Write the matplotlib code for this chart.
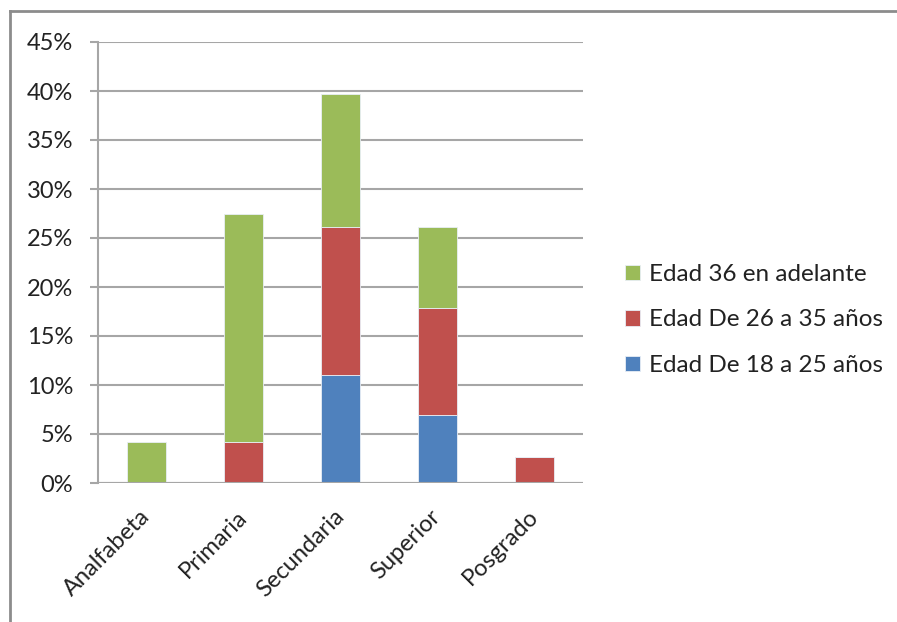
import matplotlib.pyplot as plt
from matplotlib.lines import Line2D
from matplotlib.ticker import PercentFormatter
import numpy as np

# Nivel educativo por grupo de edad (porcentajes)
categorias = ['Analfabeta', 'Primaria', 'Secundaria', 'Superior', 'Posgrado']
edad_18_25 = [0.0, 0.0, 11.0, 6.9, 0.0]
edad_26_35 = [0.0, 4.2, 15.1, 11.0, 2.7]
edad_36_mas = [4.2, 23.3, 13.6, 8.2, 0.0]

etiquetas = ['Edad De 18 a 25 años', 'Edad De 26 a 35 años', 'Edad 36 en adelante']
colores = ['#4F81BD', '#C0504D', '#9BBB59']

plt.rcParams['font.family'] = ['Lato', 'DejaVu Sans']

fig = plt.figure(figsize=(8.97, 6.22), dpi=100)
ax = fig.add_axes([98 / 897, 1 - 483 / 622, 485 / 897, 441 / 622])

x = np.arange(len(categorias))
base = np.zeros(len(categorias))
for serie, etiqueta, color in zip([edad_18_25, edad_26_35, edad_36_mas], etiquetas, colores):
    ax.bar(x, serie, width=0.4, bottom=base, color=color, edgecolor='#E8EEF6',
           linewidth=0.6, label=etiqueta, zorder=3)
    base = base + np.array(serie)

ax.set_xlim(-0.5, len(categorias) - 0.5)
ax.set_ylim(0, 45)
ax.set_yticks(np.arange(0, 46, 5))
ax.yaxis.set_major_formatter(PercentFormatter(decimals=0))
ax.yaxis.grid(True, color='#A6A6A6', linewidth=1.5, zorder=0)

for lado in ['top', 'right', 'bottom']:
    ax.spines[lado].set_visible(False)
ax.spines['left'].set_color('#A6A6A6')
ax.spines['left'].set_linewidth(1.5)
ax.axhline(0, color='#A6A6A6', linewidth=1.5, zorder=4)

ax.tick_params(axis='y', length=6, width=1.5, color='#A6A6A6', pad=12,
               labelsize=17, labelcolor='#222222')
ax.tick_params(axis='x', length=0, pad=22, labelsize=17, labelcolor='#222222')
ax.set_xticks(x)
ax.set_xticklabels(categorias, rotation=45, ha='right', va='center', rotation_mode='anchor')

# Leyenda (verde arriba, azul abajo)
handles, labels = ax.get_legend_handles_labels()
fig.legend(handles[::-1], labels[::-1], loc='center left',
           bbox_to_anchor=(625 / 897, 1 - 320 / 622), frameon=False,
           fontsize=17.5, handlelength=0.6, handleheight=0.6, handletextpad=0.4,
           labelspacing=1.0, borderpad=0, borderaxespad=0, labelcolor='#222222')

# Marco exterior del gráfico (solo izquierda y arriba visibles)
marco = dict(color='#8C8C8C', linewidth=2, transform=fig.transFigure)
fig.add_artist(Line2D([10 / 897, 10 / 897], [0, 1 - 11 / 622], **marco))
fig.add_artist(Line2D([10 / 897, 1], [1 - 11 / 622, 1 - 11 / 622], **marco))

plt.savefig('out.png', dpi=100)
plt.close()
